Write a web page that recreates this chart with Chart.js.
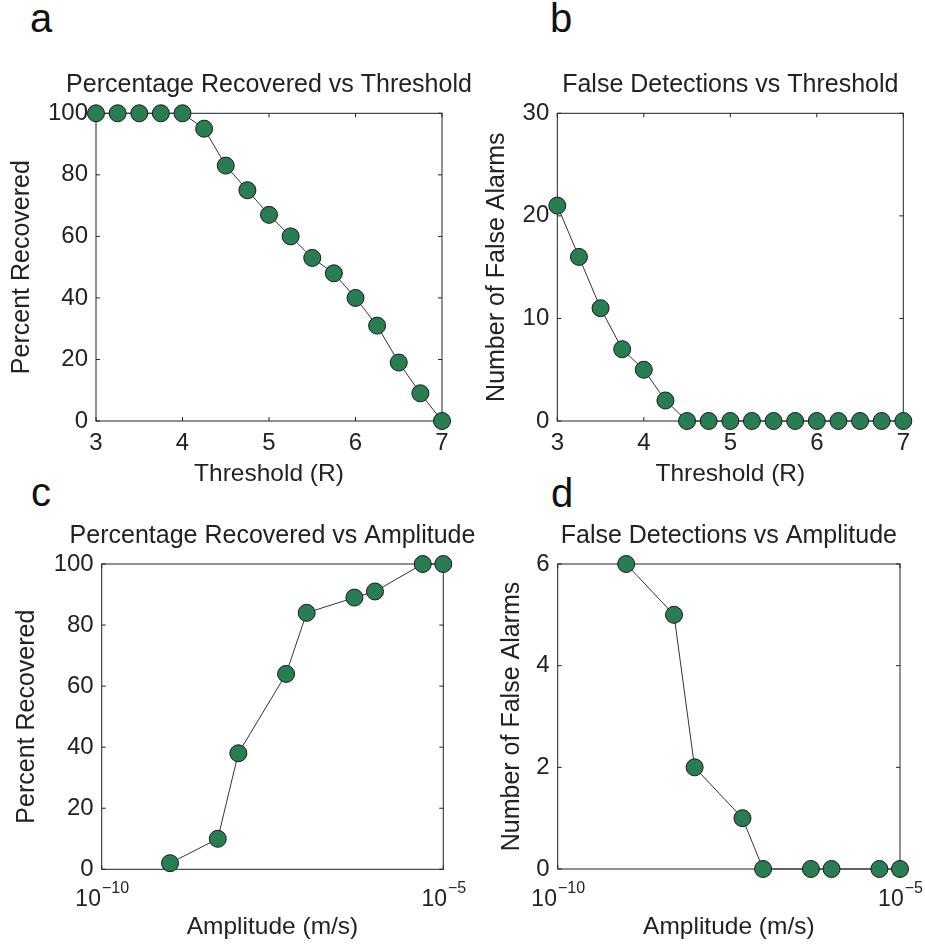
<!DOCTYPE html>
<html>
<head>
<meta charset="utf-8">
<title>Recovery and false detections</title>
<script src="https://cdn.jsdelivr.net/npm/chart.js@4.4.1/dist/chart.umd.min.js"></script>
<style>
  body { margin: 0; background: #fff; }
  #page { position: relative; width: 925px; height: 946px; overflow: hidden; font-family: "Liberation Sans", Arial, sans-serif; }
  canvas { position: absolute; }
  .letter { position: absolute; font-size: 40px; line-height: 40px; color: #111; }
</style>
</head>
<body>
<div id="page">
  <div class="letter" style="left:30px;top:-2px">a</div>
  <div class="letter" style="left:550px;top:-2px">b</div>
  <div class="letter" style="left:31px;top:472px">c</div>
  <div class="letter" style="left:551px;top:473px">d</div>
  <canvas id="panelA" width="490" height="450" style="left:0;top:40px"></canvas>
  <canvas id="panelB" width="463" height="450" style="left:462px;top:40px"></canvas>
  <canvas id="panelC" width="490" height="451" style="left:0;top:495px"></canvas>
  <canvas id="panelD" width="463" height="451" style="left:462px;top:495px"></canvas>
</div>
<script>
// data
const thresholds = [3, 3.25, 3.5, 3.75, 4, 4.25, 4.5, 4.75, 5, 5.25, 5.5, 5.75, 6, 6.25, 6.5, 6.75, 7];
const pctByThreshold = [100, 100, 100, 100, 100, 95, 83, 75, 67, 60, 53, 48, 40, 31, 19, 9, 0];
const falseByThreshold = [21, 16, 11, 7, 5, 2, 0, 0, 0, 0, 0, 0, 0, 0, 0, 0, 0];

const amplitudes = [1e-9, 5e-9, 1e-8, 5e-8, 1e-7, 5e-7, 1e-6, 5e-6, 1e-5];
const pctByAmplitude = [2, 10, 38, 64, 84, 89, 91, 100, 100];
const falseByAmplitude = [6, 5, 2, 1, 0, 0, 0, 0, 0];

// tick labels
const thresholdTicks = [3, 4, 5, 6, 7];
const amplitudeTicks = [1e-10, 1e-5];
const pctTicks = [0, 20, 40, 60, 80, 100];
const falseThresholdTicks = [0, 10, 20, 30];
const falseAmplitudeTicks = [0, 2, 4, 6];

const FONT = '"Liberation Sans", Arial, sans-serif';
const TEXT = "#222";
const GREEN = "#287d52";
const EDGE = "#1a1a1a";
const LINE = "#333";

Chart.defaults.font.family = FONT;
Chart.defaults.color = TEXT;

// box round the plot, inward ticks, panel title and 10^n labels for log axes
const frame = {
  id: "frame",
  beforeDatasetsDraw(chart) {
    const { ctx, chartArea: a, scales: { x, y } } = chart;
    ctx.save();
    ctx.strokeStyle = "#222";
    ctx.lineWidth = 1;
    ctx.strokeRect(a.left, a.top, a.width, a.height);
    ctx.beginPath();
    x.ticks.forEach((t) => {
      const px = x.getPixelForValue(t.value);
      ctx.moveTo(px, a.bottom); ctx.lineTo(px, a.bottom - 4);
      ctx.moveTo(px, a.top); ctx.lineTo(px, a.top + 4);
    });
    y.ticks.forEach((t) => {
      const py = y.getPixelForValue(t.value);
      ctx.moveTo(a.left, py); ctx.lineTo(a.left + 4, py);
      ctx.moveTo(a.right, py); ctx.lineTo(a.right - 4, py);
    });
    ctx.stroke();
    ctx.restore();
  },
  afterDraw(chart, args, opts) {
    const { ctx, chartArea: a, scales: { x } } = chart;
    ctx.save();
    ctx.fillStyle = TEXT;
    // title, centred over the plot box
    ctx.font = "25px " + FONT;
    ctx.textAlign = "center";
    ctx.textBaseline = "middle";
    ctx.fillText(opts.title, (a.left + a.right) / 2, opts.titleY);

    if (x.type === "logarithmic") {
      ctx.textBaseline = "alphabetic";
      ctx.textAlign = "left";
      x.ticks.forEach((t) => {
        const px = x.getPixelForValue(t.value);
        const exp = "\u2212" + Math.abs(Math.round(Math.log10(t.value)));
        ctx.font = "23px " + FONT;
        const wBase = ctx.measureText("10").width;
        ctx.font = "16px " + FONT;
        const wExp = ctx.measureText(exp).width;
        const x0 = px - (wBase + wExp) / 2;
        ctx.font = "23px " + FONT;
        ctx.fillText("10", x0, a.bottom + 37);
        ctx.font = "16px " + FONT;
        ctx.fillText(exp, x0 + wBase + 1, a.bottom + 23.5);
      });
    }
    ctx.restore();
  }
};

function makePanel(id, p) {
  return new Chart(document.getElementById(id), {
    type: "line",
    data: {
      datasets: [{
        data: p.xs.map((v, i) => ({ x: v, y: p.ys[i] })),
        borderColor: LINE,
        borderWidth: 1,
        tension: 0,
        clip: false,
        pointRadius: 8.5,
        pointHoverRadius: 8.5,
        pointBackgroundColor: GREEN,
        pointBorderColor: EDGE,
        pointBorderWidth: 1
      }]
    },
    options: {
      responsive: false,
      animation: false,
      events: [],
      layout: { padding: { left: 0, right: p.padRight, top: p.padTop, bottom: 0 } },
      plugins: {
        legend: { display: false },
        tooltip: { enabled: false },
        title: { display: false },
        frame: { title: p.title, titleY: p.titleY }
      },
      scales: {
        x: {
          type: p.xType,
          min: p.xTicks[0],
          max: p.xTicks[p.xTicks.length - 1],
          afterBuildTicks: (s) => { s.ticks = p.xTicks.map((v) => ({ value: v })); },
          afterFit: (s) => { s.height = p.xHeight; },
          grid: { display: false, drawTicks: false },
          border: { display: false },
          ticks: { display: p.xType === "linear", padding: 8, maxRotation: 0, font: { size: 24 } },
          title: { display: true, text: p.xLabel, font: { size: 24.5 }, padding: { top: 0, bottom: p.xTitleBottom } }
        },
        y: {
          min: p.yTicks[0],
          max: p.yTicks[p.yTicks.length - 1],
          afterBuildTicks: (s) => { s.ticks = p.yTicks.map((v) => ({ value: v })); },
          afterFit: (s) => { s.width = p.yWidth; },
          grid: { display: false, drawTicks: false },
          border: { display: false },
          ticks: { padding: 8, font: { size: 24 } },
          title: { display: true, text: p.yLabel, font: { size: 25 }, padding: { top: p.yTitleTop, bottom: 0 } }
        }
      }
    },
    plugins: [frame]
  });
}

makePanel("panelA", {
  xs: thresholds, ys: pctByThreshold, xType: "linear", xTicks: thresholdTicks, yTicks: pctTicks,
  title: "Percentage Recovered vs Threshold", xLabel: "Threshold (R)", yLabel: "Percent Recovered",
  padRight: 48, padTop: 73.3, titleY: 45, yWidth: 96, xHeight: 69, xTitleBottom: 1.3, yTitleTop: 7.5
});
makePanel("panelB", {
  xs: thresholds, ys: falseByThreshold, xType: "linear", xTicks: thresholdTicks, yTicks: falseThresholdTicks,
  title: "False Detections vs Threshold", xLabel: "Threshold (R)", yLabel: "Number of False Alarms",
  padRight: 21.7, padTop: 73.3, titleY: 45, yWidth: 95.3, xHeight: 69, xTitleBottom: 1.3, yTitleTop: 20
});
makePanel("panelC", {
  xs: amplitudes, ys: pctByAmplitude, xType: "logarithmic", xTicks: amplitudeTicks, yTicks: pctTicks,
  title: "Percentage Recovered vs Amplitude", xLabel: "Amplitude (m/s)", yLabel: "Percent Recovered",
  padRight: 46.7, padTop: 69, titleY: 41.5, yWidth: 101.7, xHeight: 76.7, xTitleBottom: 3.8, yTitleTop: 12
});
makePanel("panelD", {
  xs: amplitudes, ys: falseByAmplitude, xType: "logarithmic", xTicks: amplitudeTicks, yTicks: falseAmplitudeTicks,
  title: "False Detections vs Amplitude", xLabel: "Amplitude (m/s)", yLabel: "Number of False Alarms",
  padRight: 25, padTop: 69, titleY: 41.5, yWidth: 95.7, xHeight: 77, xTitleBottom: 3.8, yTitleTop: 34.7
});
</script>
</body>
</html>
